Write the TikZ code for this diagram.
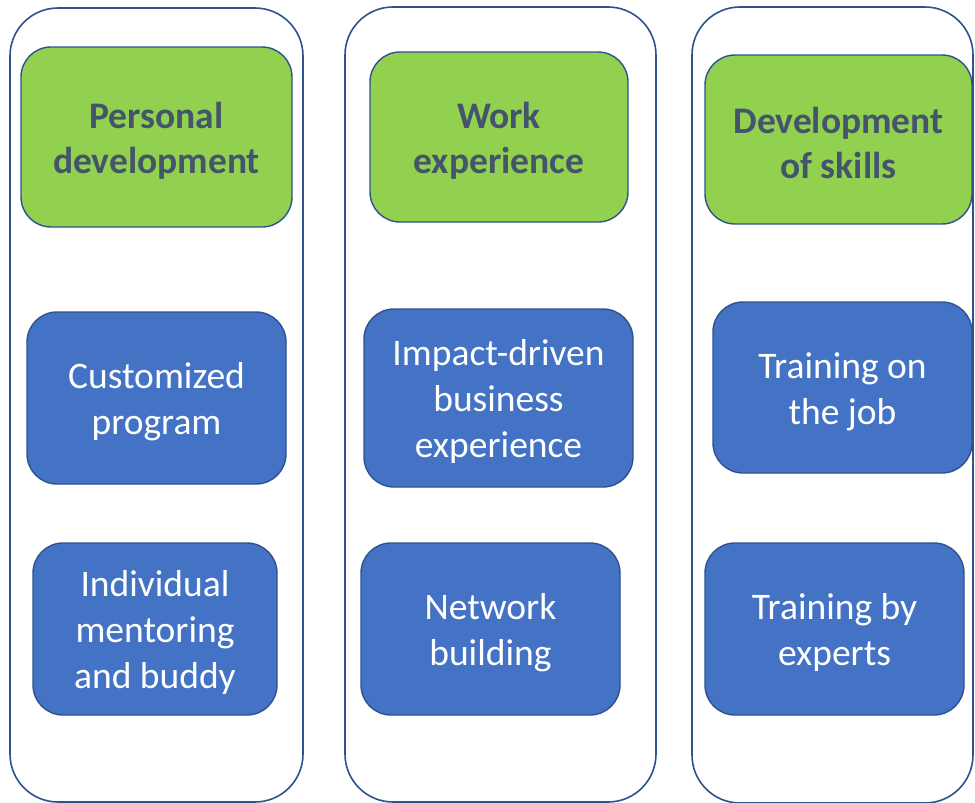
\documentclass[tikz,border=0pt]{standalone}
\usepackage{fontspec}
\setmainfont{Carlito}
\definecolor{edge}{HTML}{2F528F}
\definecolor{grn}{HTML}{92D050}
\definecolor{blu}{HTML}{4472C4}
\definecolor{hdr}{HTML}{44546A}
\newcommand{\topstrut}{\rule{0pt}{34pt}}
\tikzset{
  colbox/.style={draw=edge, line width=1.6pt, fill=white, rounded corners=48pt, inner sep=0pt},
  headbox/.style={draw=edge, line width=1.4pt, fill=grn, rounded corners=30pt, align=center, text=hdr,
    font=\fontsize{37.5}{45}\selectfont\bfseries, inner sep=0pt},
  itembox/.style={draw=edge, line width=1.4pt, fill=blu, rounded corners=30pt, align=center, text=white,
    font=\fontsize{37.5}{46}\selectfont, inner sep=0pt},
}
\begin{document}
\begin{tikzpicture}[x=1pt,y=-1pt]
\useasboundingbox (0,0) rectangle (975,803);
% columns
\node[colbox, minimum width=293pt, minimum height=794pt] (c1) at (156.5,405) {};
\node[colbox, minimum width=311pt, minimum height=795pt] (c2) at (500.5,404.5) {};
\node[colbox, minimum width=281pt, minimum height=796pt] (c3) at (832.5,405) {};
% headers
\node[headbox, minimum width=271pt, minimum height=180pt] (h1) at (156.5,137) {\topstrut Personal\\development};
\node[headbox, minimum width=258pt, minimum height=170pt] (h2) at (499,137) {\topstrut Work\\experience};
\node[headbox, minimum width=267pt, minimum height=169pt] (h3) at (838.5,139.5) {\topstrut Development\\of skills};
% items
\node[itembox, minimum width=259pt, minimum height=172pt] (i11) at (156.5,398) {\topstrut Customized\\program};
\node[itembox, minimum width=244pt, minimum height=172pt] (i12) at (155,629) {\topstrut Individual\\mentoring\\and buddy};
\node[itembox, minimum width=269pt, minimum height=178pt] (i21) at (498.5,398) {\topstrut Impact-driven\\business\\experience};
\node[itembox, minimum width=259pt, minimum height=172pt] (i22) at (490.5,629) {\topstrut Network\\building};
\node[itembox, minimum width=259pt, minimum height=171pt] (i31) at (842.5,387.5) {\topstrut Training on\\the job};
\node[itembox, minimum width=259pt, minimum height=172pt] (i32) at (834.5,629) {\topstrut Training by\\experts};
\end{tikzpicture}
\end{document}
